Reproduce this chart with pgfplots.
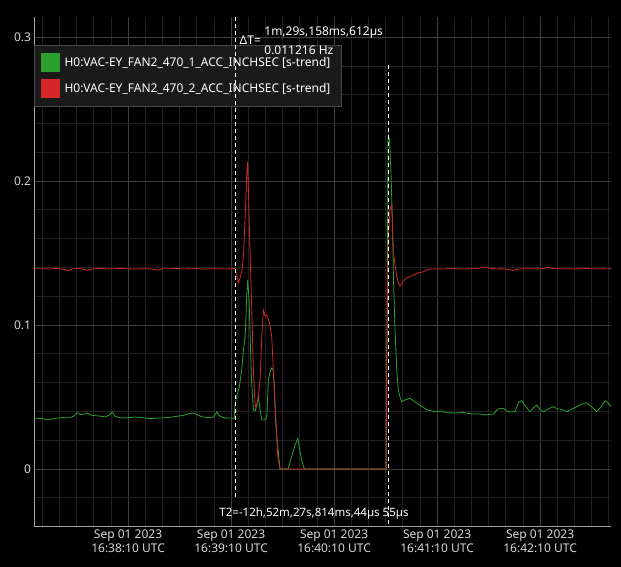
\documentclass[border=0pt]{standalone}
\usepackage{pgfplots}
\pgfplotsset{compat=1.18}
\usepackage{fontspec}
\setmainfont{Noto Sans}
\definecolor{tgreen}{RGB}{44,160,44}
\definecolor{tred}{RGB}{214,39,40}
\definecolor{legbg}{RGB}{26,26,26}
\definecolor{majgrid}{RGB}{62,62,62}
\definecolor{mingrid}{RGB}{32,32,32}
\definecolor{ticktext}{RGB}{215,215,215}
\begin{document}
\begin{tikzpicture}
\fill[black] (-34.5pt,-41pt) rectangle (586.5pt,526pt);
\begin{axis}[
  at={(0pt,0pt)}, anchor=south west,
  scale only axis, width=576.5pt, height=509pt,
  xmin=-54.5, xmax=281.3, ymin=-0.0396, ymax=0.3139,
  axis lines*=left,
  axis line style={draw=gray!75!white, -, line width=0.8pt},
  clip=false,
  xtick={0,60,120,180,240},
  xticklabels={{Sep 01 2023\\16:38:10 UTC},{Sep 01 2023\\16:39:10 UTC},{Sep 01 2023\\16:40:10 UTC},{Sep 01 2023\\16:41:10 UTC},{Sep 01 2023\\16:42:10 UTC}},
  ytick={0,0.1,0.2,0.3},
  yticklabels={0,0.1,0.2,0.3},
  minor xtick={-50,-40,-30,-20,-10,10,20,30,40,50,70,80,90,100,110,130,140,150,160,170,190,200,210,220,230,250,260,270,280},
  minor ytick={-0.02,0.02,0.04,0.06,0.08,0.12,0.14,0.16,0.18,0.22,0.24,0.26,0.28},
  grid=both,
  major grid style={draw=majgrid, line width=0.6pt},
  minor grid style={draw=mingrid, line width=0.6pt},
  major tick length=0pt, minor tick length=0pt,
  tick label style={font=\fontsize{12}{14}\selectfont, text=ticktext},
  xticklabel style={align=center},
  /pgf/number format/assume math mode=true,
  legend style={at={(0,0.945)}, anchor=north west, fill=legbg, draw=gray!55!black,
    font=\fontsize{12}{14}\selectfont, text=white, inner xsep=6pt, inner ysep=8pt, row sep=7pt,
    nodes={inner xsep=5pt}},
  legend cell align=left,
  legend image code/.code={\fill[#1] (0pt,-9pt) rectangle (18pt,9pt);},
]
\addplot[color=tgreen, line width=0.8pt] table {
-54.5 0.0354
-50 0.0350
-46.6 0.0340
-43 0.0352
-38 0.0357
-34 0.0355
-31.5 0.0368
-29.7 0.0391
-27.5 0.0378
-25.5 0.0381
-23.9 0.0389
-21 0.0372
-17 0.0368
-13 0.0362
-10.5 0.0378
-9.3 0.0398
-7.5 0.0365
-4 0.0354
0 0.0356
4 0.0361
8 0.0357
12 0.0350
16 0.0352
20 0.0355
24 0.0358
28 0.0365
32 0.0372
35 0.0382
37.9 0.0389
40 0.0378
43 0.0362
46 0.0358
49 0.0356
50.5 0.0372
51.8 0.0398
53 0.0370
56 0.0355
60 0.0354
61.9 0.0352
62.3 0.0444
63.3 0.0502
64.7 0.0563
66.2 0.0688
67.2 0.0826
68.2 0.0919
69.1 0.1197
69.7 0.1313
70.5 0.1174
71.1 0.0919
71.9 0.0618
73.0 0.0410
74.0 0.0403
75.0 0.0444
75.9 0.0502
76.9 0.0410
77.9 0.0340
79.2 0.0340
80.8 0.0354
81.7 0.0618
82.7 0.0674
83.7 0.0701
84.5 0.0688
85.2 0.0583
85.9 0.0340
86.6 0.0224
87.7 0.0097
88.5 0
93.2 0
95.5 0.0097
97.3 0.0167
98.9 0.0213
100.2 0.0118
101.4 0.0049
102.7 0
150.3 0
150.9 0.1174
151.5 0.2320
152.3 0.2285
153.2 0.2040
154.1 0.1660
154.6 0.1313
155.5 0.0965
156.5 0.0688
157.4 0.0549
158.4 0.0500
159.4 0.0467
161.3 0.0479
164.3 0.0491
168.2 0.0456
170.7 0.0438
174.0 0.0410
178.8 0.0398
182.3 0.0403
185.6 0.0391
190.5 0.0389
195.1 0.0392
200.4 0.0382
205.0 0.0382
208.0 0.0375
212.8 0.0382
215.5 0.0417
218.6 0.0422
221.4 0.0396
223.7 0.0398
225.4 0.0398
227.5 0.0465
229.3 0.0474
231.3 0.0438
234.2 0.0398
236.0 0.0424
238.1 0.0444
240.1 0.0410
242.0 0.0398
244.7 0.0417
247.9 0.0433
249.8 0.0417
251.7 0.0417
255.6 0.0398
258.5 0.0417
261.5 0.0433
264.3 0.0451
267.2 0.0460
270.1 0.0431
273.0 0.0398
275.5 0.0431
277.9 0.0474
279.6 0.0458
281.3 0.0433
};
\addlegendentry{H0:VAC-EY\_FAN2\_470\_1\_ACC\_INCHSEC [s-trend]}
\addplot[color=tred, line width=0.8pt] table {
-54.5 0.1390
-50 0.1391
-46 0.1389
-42 0.1392
-38 0.1388
-35 0.1378
-32 0.1390
-28 0.1392
-24 0.1380
-20 0.1390
-16 0.1393
-12 0.1389
-8 0.1391
-4 0.1392
0 0.1390
4 0.1388
8 0.1391
12 0.1390
15 0.1387
17.5 0.1380
20 0.1391
24 0.1390
28 0.1393
32 0.1389
36 0.1390
40 0.1392
44 0.1388
48 0.1390
52 0.1391
56 0.1389
60 0.1390
62.3 0.1394
63.2 0.1347
64.3 0.1294
65.2 0.1326
66.3 0.1380
67.2 0.1474
68.2 0.1752
69.1 0.2030
69.7 0.2134
70.5 0.1752
71.2 0.1450
71.9 0.1174
73.0 0.0688
74.0 0.0433
75.1 0.0451
76.0 0.0514
76.9 0.0618
77.9 0.0919
78.8 0.1104
79.8 0.1063
80.8 0.1069
81.8 0.1035
82.7 0.1000
83.7 0.0919
84.6 0.0688
85.6 0.0458
87.2 0.0085
88.5 0
150.3 0
150.6 0.0618
151.5 0.1590
152.6 0.1800
153.6 0.1833
154.5 0.1520
155.5 0.1417
156.5 0.1335
157.4 0.1292
158.4 0.1271
160.4 0.1306
161.9 0.1326
164.3 0.1337
166.2 0.1347
168.9 0.1361
172.0 0.1370
174.8 0.1387
178 0.1389
182 0.1388
186 0.1390
190 0.1392
194 0.1388
198 0.1390
202 0.1391
206 0.1398
208 0.1405
210 0.1396
214 0.1389
218 0.1390
222 0.1386
224.3 0.1378
226 0.1388
230 0.1390
234 0.1391
238 0.1389
242 0.1392
244.7 0.1400
247 0.1392
251 0.1390
255 0.1391
259 0.1389
263 0.1390
267 0.1392
271 0.1390
275 0.1391
279 0.1389
281.3 0.1390
};
\addlegendentry{H0:VAC-EY\_FAN2\_470\_2\_ACC\_INCHSEC [s-trend]}
\coordinate (c1top) at (axis cs:62.33,0.3139);
\coordinate (c1bot) at (axis cs:62.33,-0.0215);
\coordinate (c2top) at (axis cs:151.46,0.2806);
\coordinate (c2bot) at (axis cs:151.46,-0.0396);
\coordinate (dtlab) at (axis cs:77.8,0.2979);
\coordinate (dtval) at (axis cs:79.0,0.2976);
\coordinate (t2lab) at (axis cs:108.3,-0.0306);
\end{axis}
\draw[white, line width=0.9pt, dash pattern=on 4pt off 3pt] (c1top) -- (c1bot);
\draw[white, line width=0.9pt, dash pattern=on 4pt off 3pt] (c2top) -- (c2bot);
\node[anchor=east, text=white, font=\fontsize{12}{14}\selectfont, inner sep=0.5pt] at (dtlab) {ΔT=};
\node[anchor=west, text=white, font=\fontsize{12}{19}\selectfont, align=left, inner sep=0.5pt] at (dtval) {1m,29s,158ms,612µs\\0.011216 Hz};
\node[anchor=center, text=white, font=\fontsize{11.5}{14}\selectfont, inner sep=0.5pt] at (t2lab) {T2=-12h,52m,27s,814ms,44µs 55µs};
\end{tikzpicture}
\end{document}
